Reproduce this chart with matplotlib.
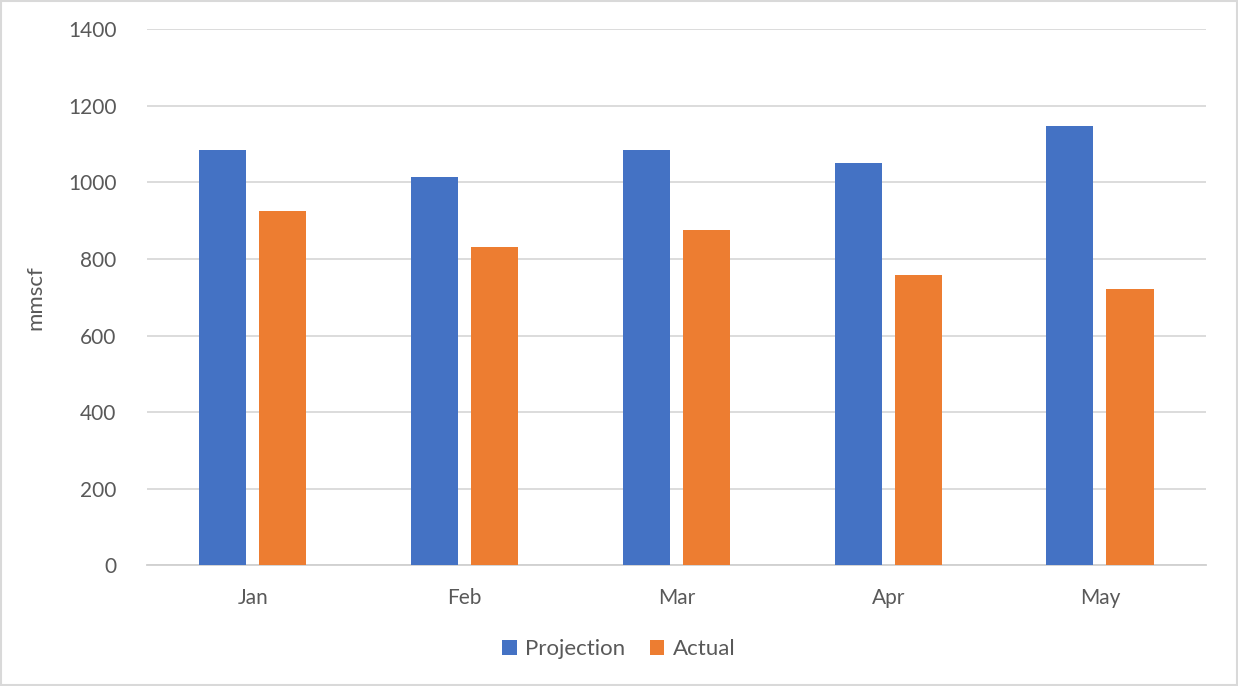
import matplotlib.pyplot as plt
import numpy as np
from matplotlib.patches import Rectangle

# monthly gas volumes, mmscf
months = ['Jan', 'Feb', 'Mar', 'Apr', 'May']
projection = [1085, 1015, 1084, 1050, 1147]
actual = [925, 831, 875, 757, 721]

blue = '#4472C4'
orange = '#ED7D31'
text_grey = '#595959'

plt.rcParams['font.family'] = ['Lato', 'DejaVu Sans']

fig = plt.figure(figsize=(12.38, 6.86), dpi=100)
ax = fig.add_axes([0.1187, 0.1757, 0.8553, 0.782])

x = np.arange(len(months))
w = 0.222
ax.bar(x - 0.142, projection, width=w, color=blue, label='Projection', zorder=3)
ax.bar(x + 0.142, actual, width=w, color=orange, label='Actual', zorder=3)

ax.set_xlim(-0.5, len(months) - 0.5)
ax.set_ylim(0, 1400)
ax.set_yticks(range(0, 1401, 200))
ax.set_xticks(x)
ax.set_xticklabels(months)
ax.yaxis.grid(True, color='#d9d9d9', linewidth=1.3, zorder=0)

for s in ['top', 'right', 'left']:
    ax.spines[s].set_visible(False)
ax.spines['bottom'].set_color('#d0d0d0')
ax.spines['bottom'].set_linewidth(1.3)
ax.tick_params(axis='both', length=0, labelsize=15, colors=text_grey)
ax.tick_params(axis='y', pad=22)
ax.tick_params(axis='x', pad=16)

ax.set_ylabel('mmscf', fontsize=16, color=text_grey, labelpad=16)

fig.legend(loc='center', bbox_to_anchor=(0.5, 0.054), ncol=2, frameon=False,
           fontsize=16, labelcolor=text_grey, handlelength=0.65, handleheight=0.65,
           handletextpad=0.4, columnspacing=1.1)

# chart area border
fig.patches.append(Rectangle((0.001, 0.001), 0.998, 0.998, transform=fig.transFigure,
                             fill=False, edgecolor='#d9d9d9', linewidth=1.5))

fig.savefig('out.png', dpi=100)
